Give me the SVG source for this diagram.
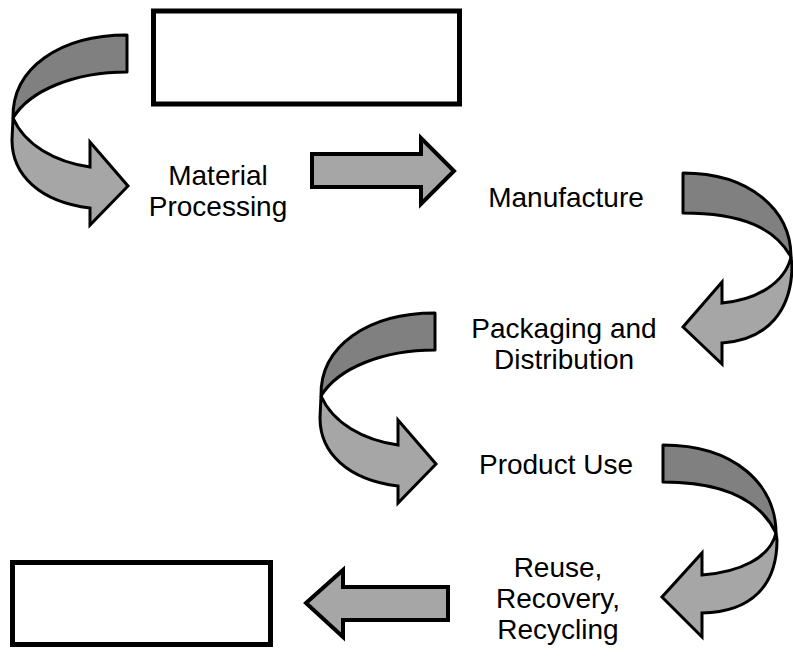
<svg xmlns="http://www.w3.org/2000/svg" width="793" height="657" viewBox="0 0 793 657">
  <style>
    .box { fill: #ffffff; stroke: #000000; stroke-width: 5; }
    .back { fill: #808080; stroke: #000000; stroke-width: 3; stroke-linejoin: round; }
    .front { fill: #a6a6a6; stroke: #000000; stroke-width: 3; stroke-linejoin: miter; }
    .block { fill: #a6a6a6; stroke: #000000; stroke-width: 4; stroke-linejoin: miter; }
    .label { font-family: "Liberation Sans", Arial, sans-serif; font-size: 28px; fill: #000000; text-anchor: middle; }
  </style>
  <defs>
    <!-- U-turn ribbon arrow, opening to the right -->
    <g id="turnRight">
      <path class="back" d="M127,35 C 60,35 12,68 13,118 C 30,90 75,72 127,72 Z"/>
      <path class="front" d="M13,118 C 25,145 55,162 90,167 L90,142 L128,186 L90,225 L90,208 C 40,202 12,175 12,140 Z"/>
    </g>
  </defs>

  <rect class="box" id="topBox" x="153.5" y="11" width="306" height="93"/>
  <rect class="box" id="bottomBox" x="12.5" y="562.5" width="258" height="82"/>

  <g id="connectors">
    <use id="turn1" href="#turnRight"/>
    <path id="straight1" class="block" d="M312,154 L421,154 L421,138 L454,171 L421,204 L421,187 L312,187 Z"/>
    <g id="turn2">
      <path class="back" d="M683,173 C 750,173 791,210 791,257 C 775,228 742,213 683,213 Z"/>
      <path class="front" d="M791,257 C 785,282 758,300 722,303 L722,282 L683,327 L722,364 L722,343 C 768,340 792,310 792,265 Z"/>
    </g>
    <use id="turn3" href="#turnRight" transform="translate(308,278)"/>
    <g id="turn4">
      <path class="back" d="M663,445 C 735,445 776,485 776,533 C 760,500 725,482 663,482 Z"/>
      <path class="front" d="M776,533 C 770,558 740,572 702,575 L702,553 L662,597 L702,637 L702,613 C 752,612 777,585 777,540 Z"/>
    </g>
    <path id="straight2" class="block" d="M448,587 L343,587 L343,570 L306,603 L343,637 L343,620 L448,620 Z"/>
  </g>

  <g id="material">
    <text class="label" x="218" y="185">Material</text>
    <text class="label" x="218" y="216">Processing</text>
  </g>
  <g id="manufacture">
    <text class="label" x="566" y="207">Manufacture</text>
  </g>
  <g id="packaging">
    <text class="label" x="564" y="338">Packaging and</text>
    <text class="label" x="564" y="369">Distribution</text>
  </g>
  <g id="use">
    <text class="label" x="556" y="474">Product Use</text>
  </g>
  <g id="endOfLife">
    <text class="label" x="558" y="577">Reuse,</text>
    <text class="label" x="558" y="608">Recovery,</text>
    <text class="label" x="558" y="639">Recycling</text>
  </g>
</svg>
